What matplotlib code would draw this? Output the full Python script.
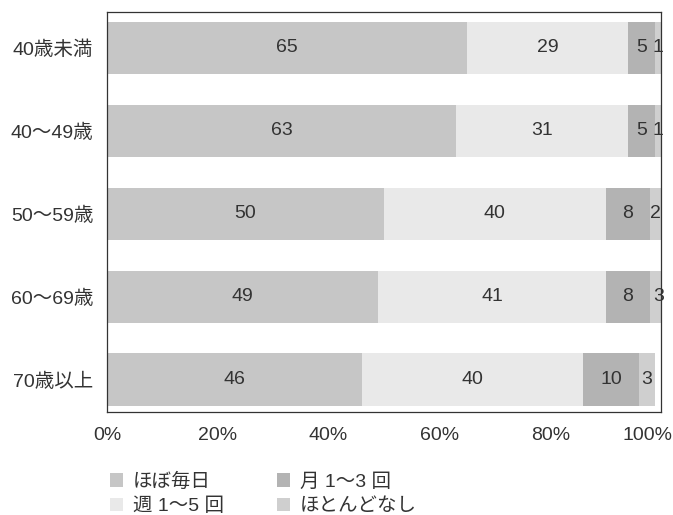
import numpy as np
import matplotlib
matplotlib.use('Agg')
import matplotlib.pyplot as plt
import matplotlib.transforms as mtransforms
from matplotlib.patches import Patch

plt.rcParams['font.family'] = ['Liberation Sans', 'Noto Sans CJK JP', 'DejaVu Sans']

ages = ['40歳未満', '40〜49歳', '50〜59歳', '60〜69歳', '70歳以上']
series = ['ほぼ毎日', '週 1〜5 回', '月 1〜3 回', 'ほとんどなし']
daily = [65, 63, 50, 49, 46]
weekly = [29, 31, 40, 41, 40]
monthly = [5, 5, 8, 8, 10]
rarely = [1, 1, 2, 3, 3]
colors = ['#c6c6c6', '#e9e9e9', '#b3b3b3', '#cfcfcf']
txt = '#333333'

fig = plt.figure(figsize=(6.73, 5.15), dpi=100)
ax = fig.add_axes([107 / 673, 1 - 412 / 515, 554 / 673, 400 / 515])

y = np.arange(len(ages))
left = np.zeros(len(ages))
for vals, c in zip([daily, weekly, monthly, rarely], colors):
    vals = np.array(vals, dtype=float)
    ax.barh(y, vals, left=left, height=0.63, color=c, edgecolor='none')
    for yi, l, v in zip(y, left, vals):
        ax.text(l + v / 2, yi, '%d' % v, ha='center', va='center',
                fontsize=14, color=txt)
    left += vals

ax.set_xlim(0, 100)
ax.set_ylim(4.39, -0.43)
ax.set_yticks(y)
ax.set_yticklabels(ages, fontsize=14, color=txt)
ax.set_xticks([0, 20, 40, 60, 80, 100])
ax.set_xticklabels(['0%', '20%', '40%', '60%', '80%', '100%'],
                   fontsize=14, color=txt)
ax.tick_params(length=0, pad=10)
ax.tick_params(axis='x', pad=11)
# keep the last percent label inside the figure
last = ax.get_xticklabels()[-1]
last.set_horizontalalignment('right')
last.set_transform(last.get_transform() +
                   mtransforms.ScaledTranslation(11 / 100, 0, fig.dpi_scale_trans))
for s in ax.spines.values():
    s.set_color('#333333')
    s.set_linewidth(0.9)

handles = [Patch(facecolor=c, edgecolor='none') for c in colors]
fig.legend(handles, series,
           loc='upper left', bbox_to_anchor=(100 / 673, 1 - 463 / 515),
           ncol=2, frameon=False, fontsize=14, handlelength=0.7,
           handleheight=0.7, handletextpad=0.5, columnspacing=2.7,
           labelspacing=0.35, labelcolor=txt, borderpad=0)

fig.savefig('out.png', dpi=100)
